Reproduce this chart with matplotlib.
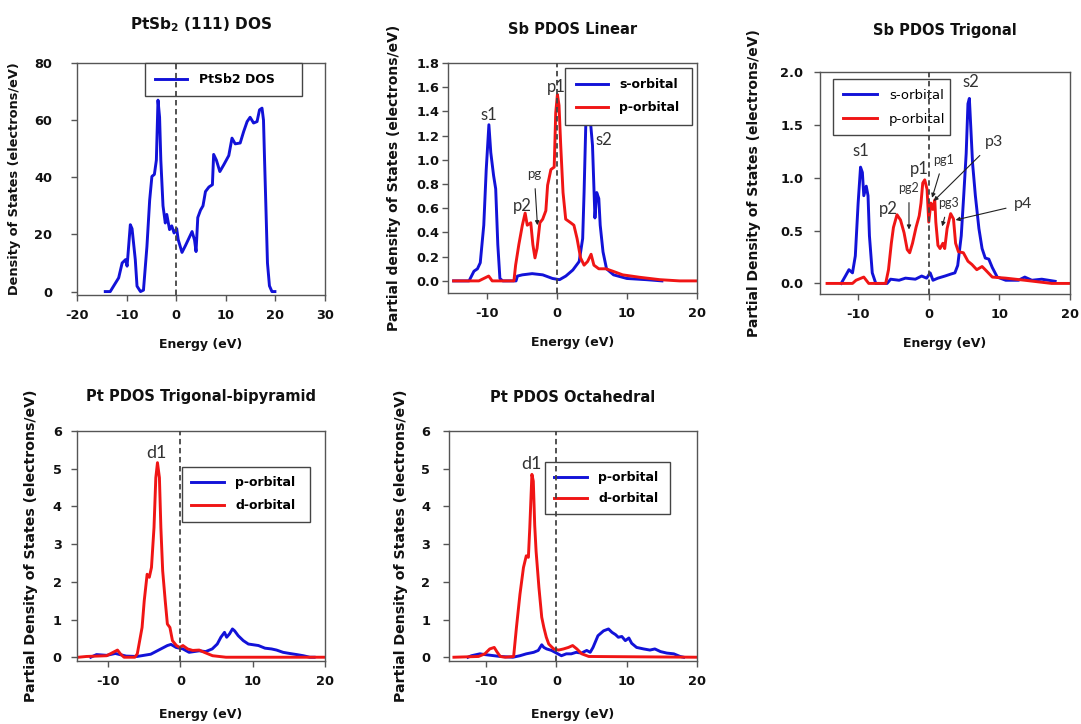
import matplotlib
matplotlib.use("Agg")
import matplotlib.pyplot as plt

plt.rcParams['font.family'] = ['DejaVu Sans']
plt.rcParams['mathtext.fontset'] = 'dejavusans'
plt.rcParams['axes.unicode_minus'] = False

# ---- data (energy in eV, DOS values) ----
# PtSb2 (111) total DOS
dos_e = [-14.3, -13.3, -11.6, -10.9, -10.2, -9.9, -9.25, -8.9, -8.25, -7.9,
         -7.2, -6.6, -5.9, -5.35, -4.9, -4.4, -4.0, -3.67, -3.35, -3.1,
         -2.66, -2.2, -1.9, -1.34, -0.9, -0.43, 0.1, 0.4, 1.17, 1.84,
         3.2, 3.7, 4.0, 4.35, 4.9, 5.4, 5.9, 6.6, 7.3, 7.55,
         8.1, 8.8, 9.6, 10.6, 11.25, 11.9, 12.9, 13.6, 14.3, 14.9,
         15.6, 16.3, 16.8, 17.3, 17.6, 17.8, 18.1, 18.4, 18.8, 19.3, 19.9]
dos_v = [0, 0, 4.8, 10, 11.2, 8.9, 23.4, 22, 11.2, 1.9,
         0, 0.5, 15.8, 32, 40.3, 41, 46, 67, 61, 46,
         30, 24, 27, 21.7, 23, 20.5, 22, 18.2, 13.7, 16,
         21, 18, 14, 25.9, 28.5, 30, 35, 36.6, 37.4, 48,
         46, 42, 44.4, 47.6, 53.7, 51.7, 52, 56, 59.5, 61,
         59, 59.5, 63.6, 64.2, 60, 47, 28.7, 10, 2, 0, 0]

# Sb PDOS linear
lin_s_e = [-14.7, -12.5, -11.8, -11.3, -10.9, -10.4, -10.05, -9.67, -9.4, -9.0,
           -8.7, -8.4, -8.1, -7.7, -5.8, -5.6, -4.9, -3.5, -2.0, -0.6,
           0.4, 1.3, 2.3, 3.2, 3.7, 3.9, 4.14, 4.4, 4.7, 5.1,
           5.45, 5.7, 6.0, 6.2, 6.6, 7.1, 8.1, 10, 12.8, 15]
lin_s_v = [0, 0, 0.08, 0.1, 0.15, 0.46, 0.92, 1.29, 1.06, 0.87,
           0.76, 0.3, 0.02, 0, 0, 0.04, 0.05, 0.06, 0.05, 0.02,
           0.01, 0.04, 0.09, 0.16, 0.35, 0.73, 1.28, 1.5, 1.39, 1.12,
           0.52, 0.73, 0.68, 0.46, 0.24, 0.1, 0.05, 0.02, 0.01, 0]
lin_p_e = [-14.7, -11.1, -9.7, -9.2, -6.1, -5.86, -5.4, -4.9, -4.5, -4.2,
           -3.7, -3.4, -3.1, -2.8, -2.4, -2.0, -1.55, -1.3, -0.83, -0.36,
           -0.14, 0.1, 0.33, 0.57, 0.9, 1.28, 2.0, 2.45, 2.9, 3.4,
           3.9, 4.4, 4.9, 5.3, 6.0, 7.0, 8.0, 9.4, 11.8, 14.7, 17.5, 20]
lin_p_v = [0, 0, 0.04, 0, 0, 0.13, 0.3, 0.46, 0.56, 0.46,
           0.48, 0.3, 0.19, 0.27, 0.48, 0.51, 0.58, 0.79, 0.92, 0.94,
           1.39, 1.54, 1.45, 1.12, 0.73, 0.51, 0.48, 0.46, 0.35, 0.19,
           0.13, 0.16, 0.22, 0.13, 0.1, 0.1, 0.08, 0.05, 0.03, 0.01, 0, 0]

# Sb PDOS trigonal
tri_s_e = [-12.4, -11.8, -11.3, -10.8, -10.4, -10.0, -9.66, -9.4, -9.2, -8.85,
           -8.6, -8.4, -8.0, -7.5, -5.9, -5.4, -4.2, -3.3, -1.9, -1.0,
           -0.3, 0.2, 0.6, 1.3, 2.3, 3.2, 3.7, 4.1, 4.6, 4.95,
           5.3, 5.55, 5.75, 5.95, 6.2, 6.6, 7.1, 7.55, 8.0, 8.5,
           9.0, 9.7, 10.9, 12.7, 13.6, 14.6, 16, 17.9]
tri_s_v = [0, 0.07, 0.13, 0.1, 0.26, 0.76, 1.1, 1.05, 0.83, 0.92,
           0.83, 0.45, 0.1, 0, 0, 0.04, 0.03, 0.05, 0.04, 0.07,
           0.05, 0.1, 0.03, 0.05, 0.07, 0.09, 0.1, 0.17, 0.45, 0.83,
           1.23, 1.7, 1.75, 1.48, 1.14, 0.83, 0.52, 0.33, 0.24, 0.23,
           0.15, 0.06, 0.03, 0.03, 0.06, 0.03, 0.04, 0.02]
tri_p_e = [-14.4, -10.8, -10.3, -9.2, -8.5, -6.1, -5.7, -5.3, -5.0, -4.5,
           -4.0, -3.5, -3.05, -2.7, -2.3, -1.8, -1.35, -1.1, -0.85, -0.57,
           -0.24, 0.0, 0.3, 0.57, 0.85, 1.0, 1.3, 1.6, 2.0, 2.26,
           2.6, 3.1, 3.5, 3.8, 4.2, 4.9, 5.55, 6.1, 6.8, 7.55,
           8.0, 9.0, 10.9, 13.6, 17.4, 20]
tri_p_v = [0, 0, 0.03, 0.06, 0, 0, 0.13, 0.38, 0.53, 0.65,
           0.6, 0.48, 0.32, 0.29, 0.38, 0.53, 0.64, 0.76, 0.95, 0.98,
           0.89, 0.58, 0.76, 0.7, 0.79, 0.58, 0.36, 0.33, 0.38, 0.33,
           0.52, 0.66, 0.61, 0.38, 0.3, 0.29, 0.21, 0.18, 0.13, 0.16,
           0.13, 0.06, 0.05, 0.03, 0, 0]

# Pt PDOS trigonal-bipyramid
tb_p_e = [-12.4, -11.6, -10.2, -9.0, -7.5, -6.0, -4.1, -2.7, -1.8, -1.3,
          -0.6, 0.35, 1.2, 1.9, 2.6, 3.5, 4.4, 5.1, 5.6, 6.1,
          6.4, 6.8, 7.2, 7.5, 8.0, 8.7, 9.4, 10.1, 10.8, 11.7,
          12.6, 13.3, 14.2, 15.1, 16.1, 17.0, 17.9, 18.5]
tb_p_v = [0, 0.07, 0.05, 0.1, 0.03, 0.02, 0.08, 0.22, 0.31, 0.34,
          0.26, 0.22, 0.13, 0.15, 0.17, 0.15, 0.22, 0.35, 0.53, 0.66,
          0.53, 0.62, 0.75, 0.7, 0.57, 0.44, 0.35, 0.33, 0.31, 0.24,
          0.22, 0.19, 0.13, 0.1, 0.07, 0.04, 0, 0]
tb_d_e = [-14.1, -13.0, -10.2, -9.3, -8.7, -8.3, -7.8, -6.3, -5.96, -5.3,
          -5.0, -4.6, -4.3, -4.0, -3.65, -3.4, -3.17, -2.9, -2.7, -2.45,
          -2.1, -1.8, -1.45, -1.1, -0.55, -0.1, 0.35, 1.0, 1.7, 2.6,
          3.3, 4.45, 6.3, 20]
tb_d_v = [0, 0.02, 0.04, 0.13, 0.19, 0.09, 0, 0, 0.09, 0.79,
          1.5, 2.2, 2.12, 2.38, 3.44, 4.76, 5.16, 4.76, 3.44, 2.29,
          1.5, 0.88, 0.79, 0.44, 0.31, 0.26, 0.31, 0.22, 0.18, 0.19,
          0.13, 0.04, 0, 0]

# Pt PDOS octahedral
oc_p_e = [-12.6, -12.1, -10.9, -10.2, -8.0, -6.2, -5.2, -4.3, -3.25, -2.6,
          -2.1, -1.8, -1.4, -0.7, 0.0, 0.7, 1.4, 2.1, 2.8, 3.55,
          4.3, 4.8, 5.2, 5.9, 6.7, 7.4, 7.9, 8.4, 8.8, 9.3,
          9.8, 10.3, 10.7, 11.4, 12.4, 13.3, 14.0, 14.8, 15.7, 16.7,
          17.6, 18.1]
oc_p_v = [0, 0.04, 0.09, 0.07, 0.02, 0.0, 0.04, 0.09, 0.13, 0.18,
          0.33, 0.26, 0.22, 0.18, 0.11, 0.04, 0.09, 0.09, 0.13, 0.11,
          0.18, 0.13, 0.26, 0.57, 0.7, 0.75, 0.66, 0.6, 0.53, 0.55,
          0.44, 0.51, 0.37, 0.26, 0.22, 0.19, 0.22, 0.15, 0.11, 0.09,
          0.02, 0]
oc_d_e = [-14.6, -11.1, -10.2, -9.5, -8.86, -8.5, -8.0, -7.3, -6.1, -5.7,
          -5.2, -4.7, -4.3, -4.0, -3.8, -3.5, -3.3, -3.1, -2.9, -2.5,
          -2.1, -1.8, -1.45, -1.1, -0.4, 0.3, 1.0, 1.7, 2.3, 2.9,
          3.6, 4.6, 20]
oc_d_v = [0, 0.02, 0.09, 0.22, 0.26, 0.15, 0.02, 0, 0.02, 0.79,
          1.67, 2.38, 2.69, 2.65, 3.44, 4.85, 4.67, 3.5, 2.8, 1.85,
          1.06, 0.79, 0.53, 0.35, 0.22, 0.19, 0.22, 0.26, 0.31, 0.22,
          0.09, 0.02, 0]

BLUE = '#1212d8'
RED = '#f01515'
W, H = 1081, 724

fig = plt.figure(figsize=(W / 100, H / 100), dpi=100)


def make_axes(x0, y0, x1, y1):
    # pixel box -> figure fraction
    return fig.add_axes([x0 / W, (H - y1) / H, (x1 - x0) / W, (y1 - y0) / H])


def style(ax, title, title_y, ylabel, ylab_x, xlab_y, xlim, ylim, xticks, yticks,
          ypad, yfmt=None, ylab_size=10, title_size=10.5):
    ax.set_xlim(*xlim)
    ax.set_ylim(*ylim)
    ax.set_xticks(xticks)
    ax.set_yticks(yticks)
    if yfmt:
        ax.set_yticklabels([yfmt % t for t in yticks])
    for sp in ax.spines.values():
        sp.set_color('#555555')
        sp.set_linewidth(1.0)
    ax.tick_params(direction='out', length=4, width=1, color='#555555',
                   labelsize=9.3, labelcolor='#111111')
    ax.tick_params(axis='x', pad=6)
    ax.tick_params(axis='y', pad=ypad)
    for lab in ax.get_xticklabels() + ax.get_yticklabels():
        lab.set_fontweight('bold')
    ax.set_ylabel(ylabel, fontsize=ylab_size, fontweight='bold', color='#111111')
    ax.yaxis.set_label_coords(ylab_x, 0.5)
    ax.set_xlabel('Energy (eV)', fontsize=9, fontweight='bold', color='#111111')
    ax.xaxis.set_label_coords(0.5, xlab_y)
    pos = ax.get_position()
    fig.text(pos.x0 + pos.width / 2, 1 - title_y / H, title, ha='center', va='center',
             fontsize=title_size, fontweight='bold', color='#111111')
    ax.axvline(0, color='#444444', ls=(0, (3, 2)), lw=1.3, zorder=6)


def legend(ax, box, size=9, weight='bold', spacing=0.8, bpad=0.75):
    leg = ax.legend(loc='upper left', bbox_to_anchor=box, mode='expand', borderaxespad=0,
                    fancybox=False, framealpha=1, edgecolor='#444444', handlelength=2.6,
                    prop={'size': size, 'weight': weight}, borderpad=bpad,
                    labelspacing=spacing, handletextpad=0.9)
    leg.get_frame().set_linewidth(1.0)
    leg.set_zorder(5)
    return leg


def note(ax, text, xy, size=12):
    ax.text(xy[0], xy[1], text, ha='center', va='center', fontsize=size,
            family='Lato', color='#333333', zorder=7)


def arrow(ax, text, xy, xytext, size=9):
    ax.annotate(text, xy=xy, xytext=xytext, ha='center', va='center', fontsize=size,
                family='Lato', color='#333333', zorder=7,
                arrowprops=dict(arrowstyle='-|>', color='#222222', lw=0.8,
                                mutation_scale=6, shrinkA=4, shrinkB=0))


# ---- panel 1: total DOS ----
ax1 = make_axes(77, 63, 325, 295)
ax1.plot(dos_e, dos_v, color=BLUE, lw=2.1, label='PtSb2 DOS')
style(ax1, r'PtSb$_\mathbf{2}$ (111) DOS', 25, 'Density of States (electrons/eV)', -0.226,
      -0.185, (-20, 30), (-1.2, 80), [-20, -10, 0, 10, 20, 30], [0, 20, 40, 60, 80], 14,
      ylab_size=9.3, title_size=11)
legend(ax1, (0.274, 0.84, 0.633, 0.16), bpad=0.8)

# ---- panel 2: Sb linear ----
ax2 = make_axes(448, 63, 697, 293)
ax2.plot(lin_s_e, lin_s_v, color=BLUE, lw=2.1, label='s-orbital')
ax2.plot(lin_p_e, lin_p_v, color=RED, lw=2.1, label='p-orbital')
style(ax2, 'Sb PDOS Linear', 30, 'Partial density of States (electrons/eV)', -0.189,
      -0.185, (-15.5, 20), (-0.1, 1.8), [-10, 0, 10, 20],
      [0, 0.2, 0.4, 0.6, 0.8, 1.0, 1.2, 1.4, 1.6, 1.8], 2, '%.1f')
legend(ax2, (0.47, 0.73, 0.51, 0.25), bpad=0.85)
note(ax2, 's1', (-9.7, 1.37))
note(ax2, 'p1', (-0.1, 1.6))
note(ax2, 's2', (6.7, 1.16))
note(ax2, 'p2', (-4.9, 0.62))
arrow(ax2, 'pg', (-2.75, 0.46), (-3.2, 0.88), 9.5)

# ---- panel 3: Sb trigonal ----
ax3 = make_axes(820, 72, 1070, 294)
ax3.plot(tri_s_e, tri_s_v, color=BLUE, lw=2.1, label='s-orbital')
ax3.plot(tri_p_e, tri_p_v, color=RED, lw=2.1, label='p-orbital')
style(ax3, 'Sb PDOS Trigonal', 30, 'Partial Density of States (electrons/eV)', -0.236,
      -0.195, (-15.4, 20), (-0.1, 2.0), [-10, 0, 10, 20], [0, 0.5, 1.0, 1.5, 2.0], 8, '%.1f')
legend(ax3, (0.052, 0.716, 0.468, 0.252), size=9.5, weight='normal')
note(ax3, 's1', (-9.66, 1.25))
note(ax3, 's2', (5.9, 1.91))
note(ax3, 'p1', (-1.4, 1.08))
note(ax3, 'p2', (-5.7, 0.7))
arrow(ax3, 'pg1', (0.47, 0.81), (2.1, 1.17))
arrow(ax3, 'pg2', (-2.8, 0.51), (-2.8, 0.9))
arrow(ax3, 'pg3', (1.9, 0.54), (2.8, 0.76))
arrow(ax3, 'p3', (0.7, 0.78), (9.2, 1.34), 11.5)
arrow(ax3, 'p4', (3.8, 0.6), (13.4, 0.75), 11.5)

# ---- panel 4: Pt trigonal-bipyramid ----
ax4 = make_axes(77, 431, 325, 661)
ax4.plot(tb_p_e, tb_p_v, color=BLUE, lw=2.1, label='p-orbital')
ax4.plot(tb_d_e, tb_d_v, color=RED, lw=2.1, label='d-orbital')
style(ax4, 'Pt PDOS Trigonal-bipyramid', 397, 'Partial Density of States (electrons/eV)', -0.157,
      -0.205, (-14.3, 20), (-0.1, 6), [-10, 0, 10, 20], [0, 1, 2, 3, 4, 5, 6], 7,
      ylab_size=10.2)
legend(ax4, (0.423, 0.6, 0.516, 0.243))
note(ax4, 'd1', (-3.3, 5.42), 13)

# ---- panel 5: Pt octahedral ----
ax5 = make_axes(449, 431, 697, 661)
ax5.plot(oc_p_e, oc_p_v, color=BLUE, lw=2.1, label='p-orbital')
ax5.plot(oc_d_e, oc_d_v, color=RED, lw=2.1, label='d-orbital')
style(ax5, 'Pt PDOS Octahedral', 397, 'Partial Density of States (electrons/eV)', -0.165,
      -0.205, (-15.3, 20), (-0.1, 6), [-10, 0, 10, 20], [0, 1, 2, 3, 4, 5, 6], 9.5,
      ylab_size=10.2)
legend(ax5, (0.387, 0.635, 0.504, 0.23), spacing=0.6)
note(ax5, 'd1', (-3.5, 5.13), 13)

fig.savefig('out.png', dpi=100, facecolor='white')
